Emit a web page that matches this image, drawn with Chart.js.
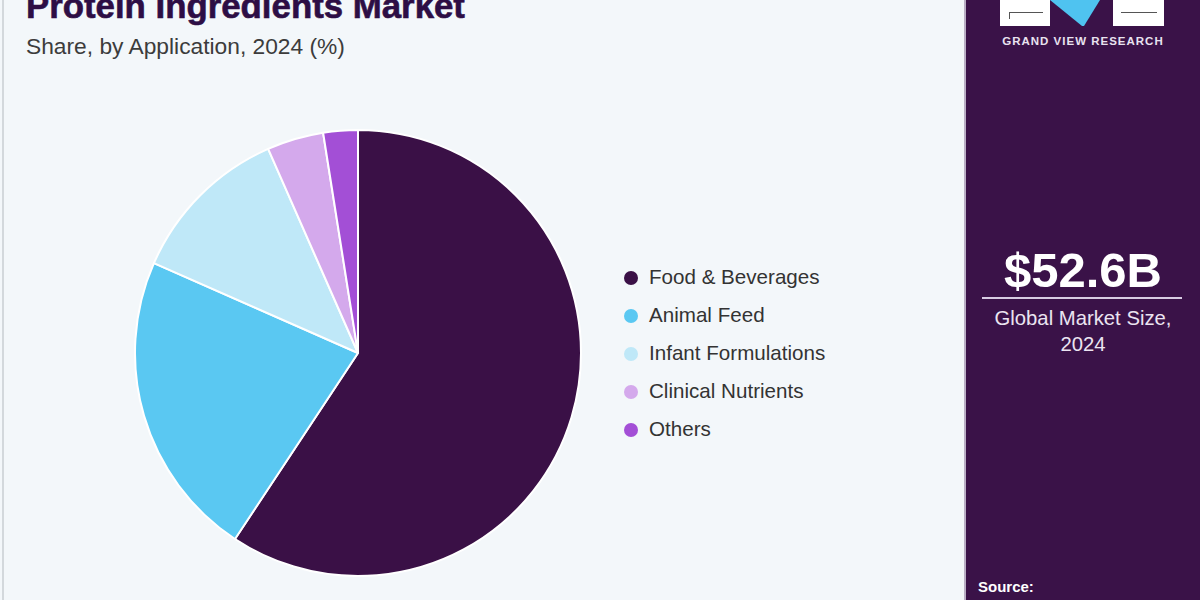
<!DOCTYPE html>
<html>
<head>
<meta charset="utf-8">
<script src="https://cdn.jsdelivr.net/npm/chart.js@4/dist/chart.umd.min.js"></script>
<style>
  html, body { margin:0; padding:0; }
  body { width:1200px; height:600px; background:#f3f7fa; position:relative; overflow:hidden; font-family:"Liberation Sans", Arial, sans-serif; }
  #leftline { position:absolute; left:2px; top:0; width:2px; height:600px; background:#d3d8dc; }
  #title { position:absolute; left:26px; top:-14px; font-weight:bold; font-size:31px; color:#2d0e45; white-space:nowrap; letter-spacing:0px; -webkit-text-stroke:0.6px #2d0e45; }
  #subtitle { position:absolute; left:26px; top:33px; font-size:20px; color:#3c3c3c; white-space:nowrap; }
  #chartwrap { position:absolute; left:134px; top:129px; width:448px; height:448px; }
  #legend { position:absolute; left:624px; top:258px; }
  .li { height:38px; display:flex; align-items:center; font-size:20.6px; color:#333; white-space:nowrap; }
  .dot { width:14px; height:14px; border-radius:50%; margin-right:11px; margin-top:1px; }
  #panel { position:absolute; left:964px; top:0; width:236px; height:600px; background:#3a1248; border-left:2px solid #b9aec4; box-sizing:border-box; }
  #big { position:absolute; left:0; width:234px; top:242px; text-align:center; color:#fff; font-weight:bold; font-size:49px; }
  #rule { position:absolute; left:16px; width:200px; top:297px; height:2px; background:#d8cce3; }
  #gms { position:absolute; left:0; width:234px; top:305px; text-align:center; color:#ebe4f1; font-size:20.3px; line-height:26px; }
  #source { position:absolute; left:12px; top:578px; color:#fff; font-weight:bold; font-size:15px; }
  #gvr { position:absolute; left:34px; top:35px; width:166px; text-align:center; color:#e9e2f0; font-weight:bold; font-size:11.5px; letter-spacing:1px; white-space:nowrap; }
  .blk { position:absolute; top:0; height:26px; background:#fff; }
</style>
</head>
<body>
<div id="leftline"></div>
<div id="title">Protein Ingredients Market</div>
<div id="subtitle">Share, by Application, 2024 (%)</div>
<div id="chartwrap"><canvas id="c"></canvas></div>
<div id="legend"></div>
<div id="panel">
  <div class="blk" style="left:34px;width:50px;"></div>
  <div style="position:absolute;left:43px;top:12px;width:34px;height:1px;background:#555;"></div>
  <div style="position:absolute;left:43px;top:12px;width:1px;height:7px;background:#555;"></div>
  <div class="blk" style="left:147px;width:51px;"></div>
  <div style="position:absolute;left:155px;top:12px;width:36px;height:1px;background:#555;"></div>
  <svg style="position:absolute;left:76px;top:0;" width="66" height="28"><polygon points="8,0 58,0 42,26 40,26" fill="#4fc3f0"/></svg>
  <div id="gvr">GRAND VIEW RESEARCH</div>
  <div id="big">$52.6B</div>
  <div id="rule"></div>
  <div id="gms">Global Market Size,<br>2024</div>
  <div id="source">Source:</div>
</div>
<script>
const categories = ["Food & Beverages", "Animal Feed", "Infant Formulations", "Clinical Nutrients", "Others"];
const shares = [59.3, 22.3, 11.8, 4.1, 2.5];
const colors = ["#3a1046", "#5ac8f2", "#bfe8f8", "#d4a9ec", "#a34fd6"];

// fit title width
(function(){
  const t = document.getElementById('title');
  const target = 439;
  const w = t.getBoundingClientRect().width;
  t.style.fontSize = (31 * target / w) + 'px';
  const s = document.getElementById('subtitle');
  const ws = s.getBoundingClientRect().width;
  s.style.fontSize = (20 * 319 / ws) + 'px';
})();

const legend = document.getElementById('legend');
categories.forEach((c, i) => {
  const d = document.createElement('div');
  d.className = 'li';
  d.innerHTML = '<span class="dot" style="background:' + colors[i] + '"></span>' + c;
  legend.appendChild(d);
});

new Chart(document.getElementById('c'), {
  type: 'pie',
  data: {
    labels: categories,
    datasets: [{
      data: shares,
      backgroundColor: colors,
      borderColor: "#ffffff",
      borderWidth: 2,
      hoverOffset: 0
    }]
  },
  options: {
    responsive: true,
    maintainAspectRatio: false,
    animation: false,
    layout: { padding: 0 },
    plugins: { legend: { display: false }, tooltip: { enabled: false } }
  }
});
</script>
</body>
</html>
